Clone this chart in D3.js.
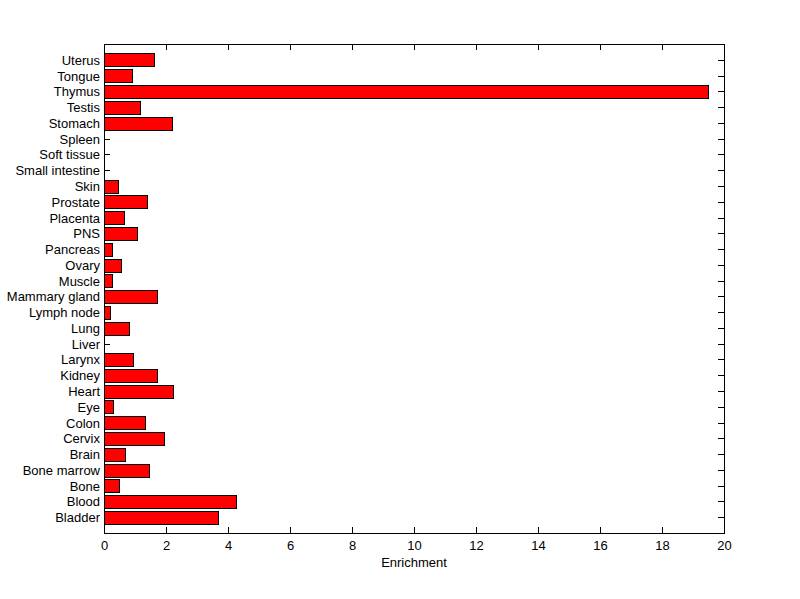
<!DOCTYPE html>
<html><head><meta charset="utf-8">
<script src="https://cdn.jsdelivr.net/npm/d3@7"></script>
<style>body{margin:0;background:#fff}svg{display:block}text{font-family:"Liberation Sans",Arial,sans-serif;font-size:13px;fill:#000}</style>
</head><body>
<script>
const categories = ["Bladder","Blood","Bone","Bone marrow","Brain","Cervix","Colon","Eye","Heart","Kidney","Larynx","Liver","Lung","Lymph node","Mammary gland","Muscle","Ovary","Pancreas","PNS","Placenta","Prostate","Skin","Small intestine","Soft tissue","Spleen","Stomach","Testis","Thymus","Tongue","Uterus"];
const values = [3.68,4.26,0.48,1.45,0.68,1.94,1.32,0.29,2.23,1.71,0.94,0,0.81,0.19,1.71,0.26,0.55,0.26,1.06,0.65,1.39,0.45,0,0,0,2.19,1.16,19.48,0.91,1.61];
const xTicks = [0,2,4,6,8,10,12,14,16,18,20];
const xLabel = "Enrichment";

const W=800,H=599, L=104, R=724, T=44, B=533;
const svg=d3.select("body").append("svg").attr("width",W).attr("height",H);
const x=d3.scaleLinear().domain([0,20]).range([L,R]);
const y=d3.scaleLinear().domain([0,31]).range([B,T]);
const tl=6;
const g=svg.append("g").attr("shape-rendering","crispEdges");
// ticks
categories.forEach((c,i)=>{
  const yy=Math.round(y(i+1))+0.5;
  g.append("line").attr("x1",L).attr("x2",L+tl).attr("y1",yy).attr("y2",yy).attr("stroke","#000");
  g.append("line").attr("x1",R-tl).attr("x2",R).attr("y1",yy).attr("y2",yy).attr("stroke","#000");
  svg.append("text").attr("x",L-4).attr("y",yy).attr("dy","0.35em").attr("text-anchor","end").text(c);
});
xTicks.forEach(t=>{
  const xx=Math.round(x(t))+0.5;
  g.append("line").attr("x1",xx).attr("x2",xx).attr("y1",B).attr("y2",B-tl).attr("stroke","#000");
  g.append("line").attr("x1",xx).attr("x2",xx).attr("y1",T).attr("y2",T+tl).attr("stroke","#000");
  svg.append("text").attr("x",xx).attr("y",B+17).attr("text-anchor","middle").text(t);
});
// bars
const bh=(y(0)-y(0.8));
values.forEach((v,i)=>{
  if(v<=0) return;
  const yc=y(i+1);
  g.append("rect").attr("x",x(0)+0.5).attr("y",Math.round(yc-bh/2)+0.5)
   .attr("width",x(v)-x(0)).attr("height",Math.round(bh))
   .attr("fill","#ff0000").attr("stroke","#000");
});
// frame
g.append("rect").attr("x",L+0.5).attr("y",T+0.5).attr("width",R-L).attr("height",B-T).attr("fill","none").attr("stroke","#000");
svg.append("text").attr("x",(L+R)/2).attr("y",B+34).attr("text-anchor","middle").text(xLabel);
</script>
</body></html>
